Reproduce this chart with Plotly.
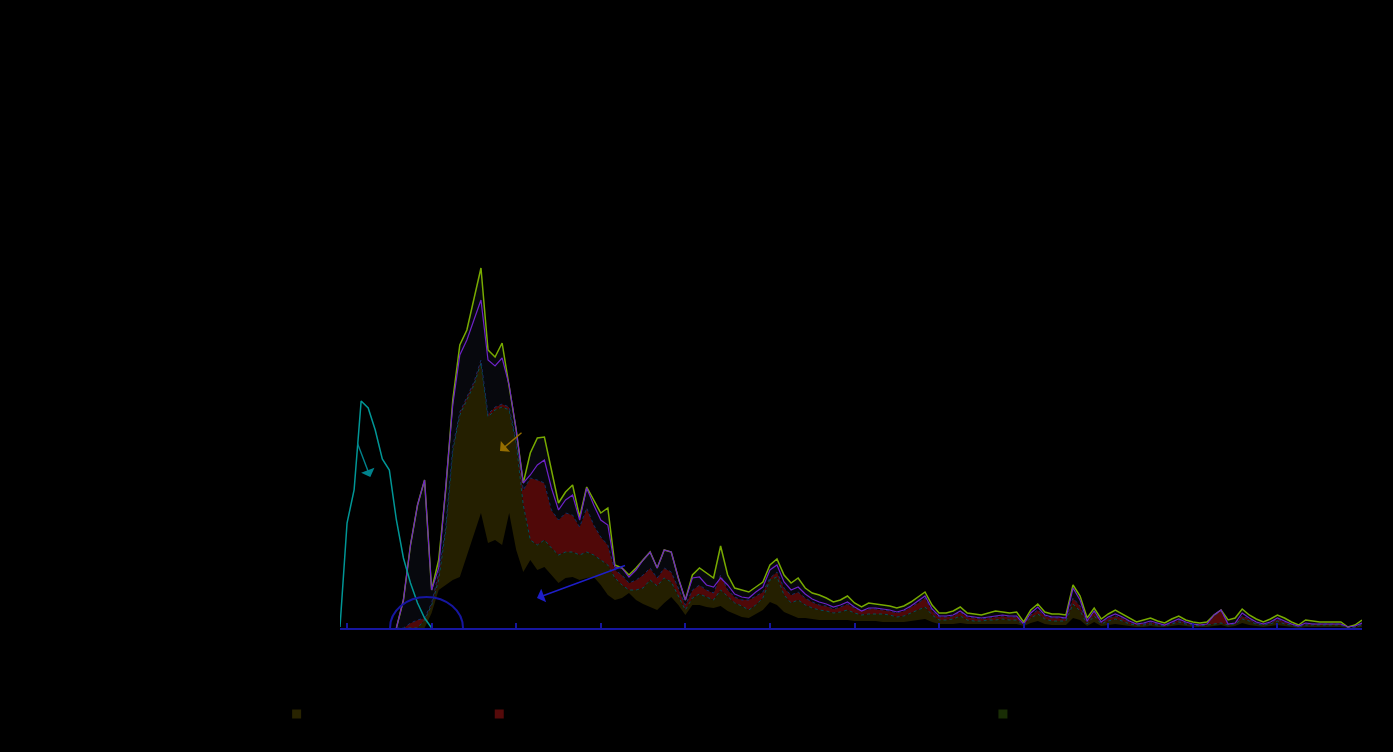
import plotly.graph_objects as go

# ---- data (monthly index, ticks every 12 months) ----
months = list(range(146))
tick_months = [1, 13, 25, 37, 49, 61, 73, 85, 97, 109, 121, 133, 145]
tick_labels = ['2008', '2009', '2010', '2011', '2012', '2013', '2014',
               '2015', '2016', '2017', '2018', '2019', '2020']
y_ticks = [100, 200, 300, 400, 500]

early_x = months[:14]
early_wave = [1, 105, 138, 227, 220, 198, 169, 158, 108, 70, 45, 25, 10, 0]

main_x = months[8:]
base_layer = [
    0, 0, 0, 0, 0, 15, 38, 43, 48, 51,
    73, 93, 115, 85, 88, 83, 115, 78, 56, 68,
    58, 61, 53, 45, 50, 51, 48, 50, 51, 43,
    33, 28, 30, 35, 28, 24, 21, 18, 25, 31,
    23, 13, 23, 23, 21, 20, 22, 17, 14, 11,
    10, 14, 18, 26, 23, 16, 13, 10, 10, 9,
    8, 8, 8, 8, 8, 7, 7, 7, 7, 6,
    6, 6, 6, 7, 8, 9, 6, 4, 4, 4,
    5, 4, 4, 4, 4, 4,
    4, 4, 4, 2, 5, 7, 4, 3, 3, 3,
    10, 8, 2, 6, 2, 3, 4, 3, 2, 1,
    1, 2, 1, 1, 2, 3, 2, 1, 1, 1,
    2, 3, 1, 2, 5, 3, 2, 1, 2, 3,
    2, 1, 0, 1, 1, 1, 1, 1, 1, 0,
    0, 1]
olive_layer = [
    0, 0, 0, 0, 8, 23, 48, 98, 178, 213,
    228, 243, 265, 211, 218, 221, 218, 185, 123, 88,
    83, 88, 80, 73, 76, 76, 73, 76, 73, 68,
    63, 50, 43, 38, 38, 40, 48, 42, 50, 46,
    32, 18, 30, 34, 31, 28, 38, 31, 25, 22,
    18, 23, 30, 48, 51, 33, 25, 28, 23, 20,
    18, 17, 15, 16, 18, 15, 13, 14, 14, 14,
    13, 11, 12, 15, 18, 21, 13, 8, 8, 9,
    12, 8, 7, 7, 8, 8,
    9, 8, 8, 3, 10, 14, 9, 7, 7, 7,
    24, 17, 4, 12, 4, 7, 9, 7, 4, 3,
    3, 4, 3, 2, 4, 6, 4, 3, 2, 3,
    4, 5, 3, 4, 9, 7, 4, 3, 4, 7,
    4, 3, 1, 3, 3, 3, 3, 3, 3, 0,
    1, 3]
red_layer = [
    0, 0, 5, 8, 10, 25, 55, 101, 181, 216,
    231, 246, 268, 214, 221, 224, 221, 188, 138, 150,
    148, 145, 118, 108, 115, 113, 101, 120, 103, 91,
    83, 58, 53, 45, 48, 53, 60, 50, 60, 56,
    40, 23, 38, 43, 38, 35, 53, 38, 31, 28,
    28, 32, 36, 50, 56, 40, 33, 36, 30, 26,
    23, 22, 19, 21, 24, 20, 17, 19, 19, 18,
    17, 15, 17, 21, 25, 30, 17, 11, 11, 12,
    16, 11, 10, 9, 10, 11,
    12, 11, 11, 4, 13, 18, 12, 10, 10, 9,
    30, 22, 6, 16, 5, 10, 12, 10, 6, 4,
    4, 6, 4, 3, 5, 8, 5, 4, 3, 4,
    12, 17, 4, 5, 12, 9, 5, 4, 5, 9,
    6, 4, 1, 4, 4, 4, 4, 4, 4, 0,
    1, 4]
top_layer = [
    0, 28, 83, 123, 148, 38, 68, 138, 228, 283,
    298, 328, 360, 278, 271, 285, 243, 198, 145, 175,
    190, 191, 158, 125, 136, 143, 111, 141, 128, 115,
    120, 63, 60, 53, 60, 68, 76, 60, 78, 76,
    50, 28, 53, 60, 55, 50, 82, 53, 40, 38,
    36, 41, 46, 63, 69, 53, 45, 50, 40, 35,
    33, 30, 26, 28, 32, 25, 21, 25, 24, 23,
    22, 20, 22, 26, 31, 36, 23, 15, 15, 17,
    21, 15, 14, 13, 15, 17,
    16, 15, 16, 6, 18, 24, 16, 14, 14, 13,
    43, 32, 10, 20, 9, 14, 18, 14, 10, 6,
    8, 10, 7, 5, 9, 12, 8, 6, 5, 6,
    13, 18, 8, 10, 19, 13, 9, 6, 9, 13,
    10, 6, 3, 8, 7, 6, 6, 6, 6, 1,
    3, 8]
purple_line = [
    0, 28, 83, 123, 148, 38, 60, 138, 223, 273,
    288, 308, 328, 268, 262, 270, 243, 198, 145, 153,
    163, 168, 140, 118, 128, 133, 108, 140, 123, 108,
    103, 61, 60, 51, 58, 68, 76, 60, 78, 76,
    50, 28, 50, 51, 43, 41, 50, 43, 34, 31,
    30, 36, 41, 58, 63, 46, 38, 41, 34, 29,
    26, 24, 21, 23, 26, 21, 17, 20, 20, 19,
    18, 16, 18, 22, 27, 32, 19, 12, 12, 13,
    17, 12, 11, 10, 11, 12,
    13, 12, 12, 4, 15, 21, 13, 11, 11, 10,
    40, 28, 7, 17, 6, 11, 14, 11, 7, 4,
    5, 7, 5, 3, 6, 9, 6, 4, 3, 4,
    13, 18, 4, 5, 15, 10, 6, 4, 6, 10,
    7, 4, 2, 5, 4, 4, 4, 4, 4, 1,
    2, 5]

legend_names = ['Manufacturing output index',
                'Construction output, seasonally adjusted, three-month moving average (UK index)',
                'Services output']

NAVY = 'rgb(22,22,160)'

fig = go.Figure()
fig.add_trace(go.Scatter(x=main_x, y=base_layer, mode='lines', line=dict(width=0, color='rgba(0,0,0,0)'),
                         fill='tozeroy', fillcolor='rgba(0,0,0,0)', showlegend=False, hoverinfo='skip'))
fig.add_trace(go.Scatter(x=main_x, y=olive_layer, mode='lines',
                         line=dict(width=1, color='rgb(0,80,90)', dash='dot'),
                         fill='tonexty', fillcolor='rgb(36,31,0)', showlegend=False))
fig.add_trace(go.Scatter(x=main_x, y=red_layer, mode='lines',
                         line=dict(width=1, color='rgb(20,45,100)', dash='dot'),
                         fill='tonexty', fillcolor='rgb(80,8,8)', showlegend=False))
fig.add_trace(go.Scatter(x=main_x, y=top_layer, mode='lines',
                         line=dict(width=1.5, color='rgb(120,170,0)'),
                         fill='tonexty', fillcolor='rgb(7,8,13)', showlegend=False))
fig.add_trace(go.Scatter(x=main_x, y=purple_line, mode='lines',
                         line=dict(width=1.2, color='rgb(110,35,200)'), showlegend=False))
fig.add_trace(go.Scatter(x=early_x, y=early_wave, mode='lines',
                         line=dict(width=1.5, color='rgb(0,150,150)'), showlegend=False))

for nm, col in zip(legend_names, ['rgb(40,35,0)', 'rgb(85,10,10)', 'rgb(25,45,5)']):
    fig.add_trace(go.Scatter(x=[None], y=[None], mode='markers', name=nm,
                             marker=dict(symbol='square', size=9, color=col)))

fig.add_shape(type='circle', xref='x', yref='y', x0=7.1, x1=17.45, y0=-31, y1=31,
              line=dict(color=NAVY, width=2), layer='above')

ann_common = dict(showarrow=True, arrowhead=1, arrowsize=1.7, arrowwidth=1.4,
                  font=dict(color='black', size=10), xref='x', yref='y')
fig.add_annotation(x=4.3, y=151, ax=-16, ay=-42, text='a', arrowcolor='rgb(0,130,140)', **ann_common)
fig.add_annotation(x=22.7, y=177, ax=26, ay=-22, text='b', arrowcolor='rgb(150,110,0)', **ann_common)
fig.add_annotation(x=27.95, y=30, ax=92, ay=-34, text='c', arrowcolor='rgb(30,30,200)', **ann_common)

fig.update_layout(
    width=1393, height=752,
    paper_bgcolor='black', plot_bgcolor='black',
    font=dict(color='black', family='Open Sans', size=12),
    title=dict(text='Monthly output', font=dict(color='black')),
    margin=dict(l=340, r=31, t=78, b=124),
    legend=dict(orientation='h', x=-0.062, xanchor='left', y=-0.13, yanchor='top',
                traceorder='normal', font=dict(color='black')),
    xaxis=dict(range=[0, 145], tickvals=tick_months, ticktext=tick_labels, showgrid=False,
               zeroline=False, showline=True, linecolor=NAVY, linewidth=2,
               ticks='inside', ticklen=5, tickwidth=1.5, tickcolor=NAVY),
    yaxis=dict(range=[0, 550], tickvals=y_ticks, showgrid=False, zeroline=False, showline=False),
)

fig.write_html("out.html", config={'displayModeBar': False},
               post_script="document.body.style.margin='0';document.body.style.background='black';"
                           "document.body.style.overflow='hidden';")
